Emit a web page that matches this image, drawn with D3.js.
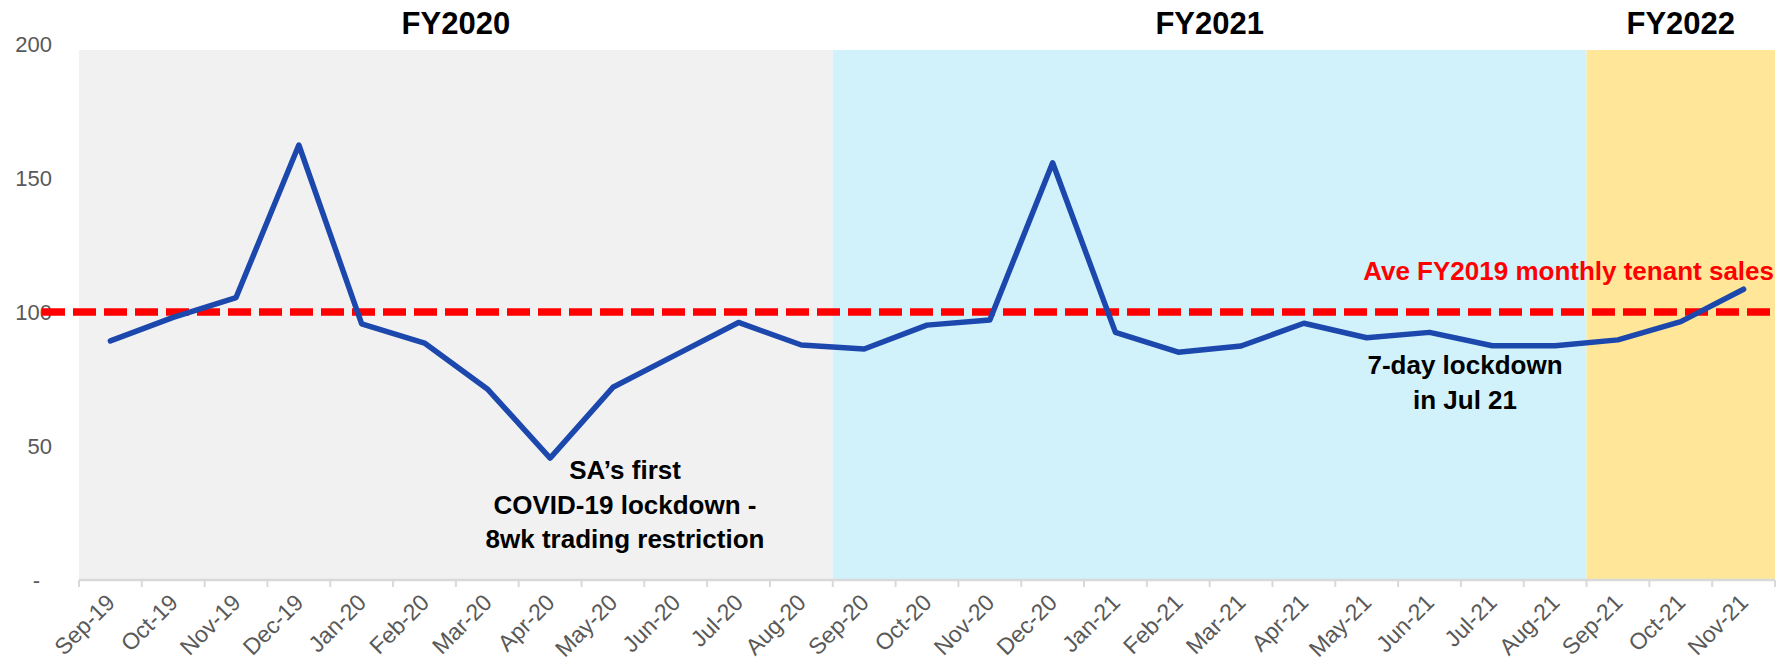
<!DOCTYPE html>
<html>
<head>
<meta charset="utf-8">
<script src="https://cdn.jsdelivr.net/npm/d3@7"></script>
<style>
  html, body { margin: 0; padding: 0; background: #ffffff; }
  svg { display: block; font-family: "Liberation Sans", Arial, sans-serif; }
</style>
</head>
<body>
<svg id="chart" width="1788" height="663"></svg>
<script>
// ---------- DATA ----------
const months = ["Sep-19","Oct-19","Nov-19","Dec-19","Jan-20","Feb-20","Mar-20","Apr-20","May-20","Jun-20","Jul-20","Aug-20",
                "Sep-20","Oct-20","Nov-20","Dec-20","Jan-21","Feb-21","Mar-21","Apr-21","May-21","Jun-21","Jul-21","Aug-21",
                "Sep-21","Oct-21","Nov-21"];
const salesIndex = [89.2, 98, 105.4, 162.3, 95.6, 88.4, 71.3, 45.5, 71.9, 84, 96.1, 87.7,
                    86.2, 95.1, 97.0, 155.7, 92.4, 85.0, 87.3, 95.8, 90.4, 92.4, 87.4, 87.4,
                    89.6, 96.4, 108.5];
const fyLabels = ["FY2020", "FY2021", "FY2022"];
const fyFirstMonth = ["Sep-19", "Sep-20", "Sep-21"];
const fyLastMonth = ["Aug-20", "Aug-21", "Nov-21"];
const benchmarkValue = 100;
const benchmarkLabel = "Ave FY2019 monthly tenant sales";
const yTickValues = [0, 50, 100, 150, 200];
const yTickLabels = ["-", "50", "100", "150", "200"];
const note1Lines = ["SA\u2019s first", "COVID-19 lockdown -", "8wk trading restriction"];
const note2Lines = ["7-day lockdown", "in Jul 21"];

// ---------- LAYOUT / STYLE ----------
const fyColors = ["#f1f1f1", "#d1f2fb", "#ffe699"];
const plotLeft = 79, plotRight = 1775, plotTop = 50, plotBottom = 580;
const lineColor = "#1c48ad";
const labelGray = "#595959";

const svg = d3.select("#chart");
const x = d3.scaleBand().domain(months).range([plotLeft, plotRight]).padding(0);
const y = d3.scaleLinear().domain([0, 200]).range([plotBottom, 44]);

// Fiscal year background bands
const fy = fyLabels.map((l, i) => ({ label: l, x0: x(fyFirstMonth[i]), x1: x(fyLastMonth[i]) + x.bandwidth(), color: fyColors[i] }));
svg.append("g").selectAll("rect").data(fy).join("rect")
  .attr("x", d => d.x0).attr("y", plotTop)
  .attr("width", d => d.x1 - d.x0).attr("height", plotBottom - plotTop)
  .attr("fill", d => d.color);

// FY labels
svg.append("g").selectAll("text").data(fy).join("text")
  .attr("x", d => (d.x0 + d.x1) / 2).attr("y", 34)
  .attr("text-anchor", "middle")
  .attr("font-size", 31).attr("font-weight", "bold").attr("fill", "#000")
  .text(d => d.label);

// Y axis (labels only)
const yAxis = d3.axisLeft(y).tickValues(yTickValues)
  .tickFormat((d, i) => yTickLabels[i]).tickSize(0).tickPadding(27);
const yg = svg.append("g").attr("transform", `translate(${plotLeft},0)`).call(yAxis);
yg.select(".domain").remove();
yg.selectAll("text").attr("font-size", 22).attr("fill", labelGray)
  .attr("font-family", "Liberation Sans, Arial, sans-serif")
  .attr("dx", d => d === 0 ? -12 : 0);

// X axis
const xAxis = d3.axisBottom(x).tickSize(0).tickPadding(0);
const xg = svg.append("g").attr("transform", `translate(0,${plotBottom})`).call(xAxis);
xg.select(".domain").remove();
xg.selectAll("text")
  .attr("font-size", 23).attr("fill", labelGray)
  .attr("font-family", "Liberation Sans, Arial, sans-serif")
  .attr("text-anchor", "end")
  .attr("dy", null).attr("y", null)
  .attr("transform", "translate(6,24) rotate(-45)");

// axis line + boundary ticks
const boundaries = months.map(m => x(m)).concat([x(months[months.length - 1]) + x.bandwidth()]);
svg.append("line").attr("x1", plotLeft).attr("x2", plotRight)
  .attr("y1", plotBottom).attr("y2", plotBottom)
  .attr("stroke", "#d9d9d9").attr("stroke-width", 2.5);
svg.append("g").selectAll("line").data(boundaries).join("line")
  .attr("x1", d => d).attr("x2", d => d)
  .attr("y1", plotBottom).attr("y2", plotBottom + 7)
  .attr("stroke", "#d9d9d9").attr("stroke-width", 2);

// Benchmark dashed line
svg.append("line")
  .attr("x1", 42).attr("x2", plotRight)
  .attr("y1", y(benchmarkValue)).attr("y2", y(benchmarkValue))
  .attr("stroke", "#ff0000").attr("stroke-width", 7.5)
  .attr("stroke-dasharray", "23 8");

// Sales line
const line = d3.line()
  .x((d, i) => x(months[i]) + x.bandwidth() / 2)
  .y(d => y(d));
svg.append("path").datum(salesIndex)
  .attr("d", line)
  .attr("fill", "none").attr("stroke", lineColor)
  .attr("stroke-width", 5.5).attr("stroke-linejoin", "round").attr("stroke-linecap", "round");

// Benchmark label
svg.append("text")
  .attr("x", plotRight - 1).attr("y", 280)
  .attr("text-anchor", "end")
  .attr("font-size", 26).attr("font-weight", "bold").attr("fill", "#ff0000")
  .text(benchmarkLabel);

// Annotations
function note(lines, cx, y0, lh) {
  const t = svg.append("text").attr("text-anchor", "middle")
    .attr("font-size", 26).attr("font-weight", "bold").attr("fill", "#000");
  lines.forEach((l, i) => t.append("tspan").attr("x", cx).attr("y", y0 + i * lh).text(l));
}
note(note1Lines, 625, 479, 34.5);
note(note2Lines, 1465, 374, 35);
</script>
</body>
</html>
